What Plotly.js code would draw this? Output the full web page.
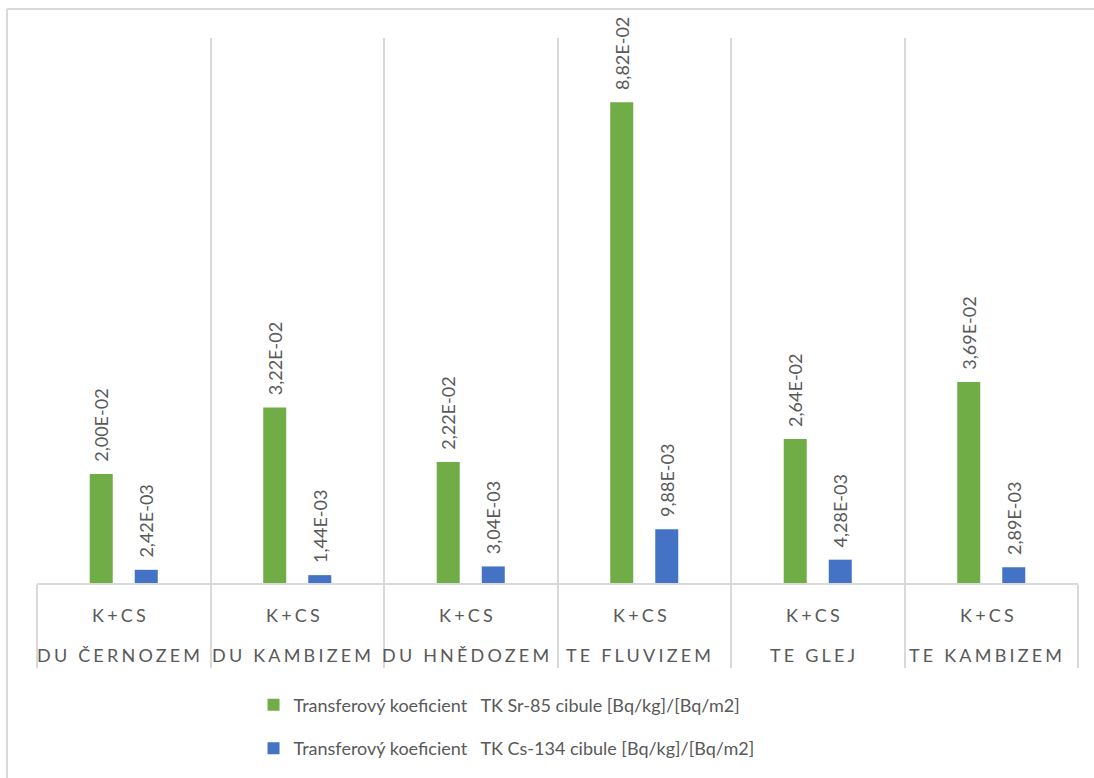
<!DOCTYPE html>
<html>
<head>
<meta charset="utf-8">
<script src="https://cdn.plot.ly/plotly-3.0.1.min.js"></script>
<style>
  html, body { margin: 0; padding: 0; background: #fff; }
  #chart { width: 1094px; height: 778px; }
  .annotation-text { letter-spacing: 3.2px; }
</style>
</head>
<body>
<div id="chart"></div>
<script>
// ---- data ----
const soils = ["DU ČERNOZEM", "DU KAMBIZEM", "DU HNĚDOZEM", "TE FLUVIZEM", "TE GLEJ", "TE KAMBIZEM"];
const variantLabel = ["K+CS", "K+CS", "K+CS", "K+CS", "K+CS", "K+CS"];
const srValues = [0.0200, 0.0322, 0.0222, 0.0882, 0.0264, 0.0369];
const csValues = [0.00242, 0.00144, 0.00304, 0.00988, 0.00428, 0.00289];
const seriesNames = [
  "Transferový koeficient\u00a0\u00a0\u00a0TK Sr-85 cibule [Bq/kg]/[Bq/m2]",
  "Transferový koeficient\u00a0\u00a0\u00a0TK Cs-134 cibule [Bq/kg]/[Bq/m2]"
];
const seriesColors = ["#70AD47", "#4472C4"];

// Excel-like scientific format "2,00E-02"
function fmt(v) {
  const parts = v.toExponential(2).split("e");
  const mant = parts[0].replace(".", ",");
  let exp = parseInt(parts[1], 10);
  const sign = exp < 0 ? "-" : "+";
  exp = Math.abs(exp);
  return mant + "E" + sign + (exp < 10 ? "0" + exp : String(exp));
}
const pad = "\u00a0\u00a0";

const FONT = "Lato, 'Open Sans', sans-serif";
const GRAY = "#595959";
const LINE = "#D9D9D9";

const traces = [srValues, csValues].map((vals, k) => ({
  type: "bar",
  x: soils,
  y: vals,
  name: seriesNames[k],
  legendgroup: "g" + k,
  marker: { color: seriesColors[k] },
  text: vals.map(v => pad + fmt(v)),
  textposition: "outside",
  textangle: -90,
  constraintext: "none",
  cliponaxis: false,
  textfont: { family: FONT, size: 18, color: GRAY },
  hoverinfo: "x+y"
}));

const annotations = [];
soils.forEach((s, i) => {
  annotations.push({
    x: s, xref: "x", y: -0.059, yref: "paper", xshift: -3,
    text: variantLabel[i], showarrow: false, yanchor: "middle", xanchor: "center",
    font: { family: FONT, size: 18, color: GRAY }
  });
  annotations.push({
    x: s, xref: "x", y: -0.132, yref: "paper", xshift: -4,
    text: s, showarrow: false, yanchor: "middle", xanchor: "center",
    font: { family: FONT, size: 18, color: GRAY }
  });
});

const layout = {
  width: 1094,
  height: 778,
  margin: { l: 37, r: 16, t: 38, b: 193 },
  paper_bgcolor: "#ffffff",
  plot_bgcolor: "#ffffff",
  font: { family: FONT, color: GRAY },
  barmode: "group",
  bargap: 0.481,
  bargroupgap: 0.489,
  showlegend: true,
  legend: {
    orientation: "v",
    x: 0.208, xanchor: "left",
    y: -0.19, yanchor: "top",
    traceorder: "grouped",
    tracegroupgap: 17,
    font: { family: FONT, size: 18, color: GRAY },
    bgcolor: "rgba(0,0,0,0)"
  },
  xaxis: {
    type: "category",
    range: [-0.5, soils.length - 0.5],
    showticklabels: false,
    tickson: "boundaries",
    ticks: "outside",
    ticklen: 83,
    tickwidth: 2,
    tickcolor: LINE,
    showgrid: true,
    gridcolor: LINE,
    gridwidth: 2,
    showline: true,
    linecolor: LINE,
    linewidth: 2,
    zeroline: false,
    fixedrange: true
  },
  yaxis: {
    range: [0, 0.1],
    showticklabels: false,
    showgrid: false,
    zeroline: false,
    showline: false,
    ticks: "",
    fixedrange: true
  },
  annotations: annotations,
  shapes: [
    { type: "line", xref: "paper", yref: "paper", x0: -0.0288, x1: 1.2, y0: 1.053, y1: 1.053,
      line: { color: LINE, width: 2 } },
    { type: "line", xref: "paper", yref: "paper", x0: -0.0288, x1: -0.0288, y0: 1.053, y1: -0.5,
      line: { color: LINE, width: 2 } }
  ]
};

Plotly.newPlot("chart", traces, layout, { displayModeBar: false, staticPlot: true });
</script>
</body>
</html>
